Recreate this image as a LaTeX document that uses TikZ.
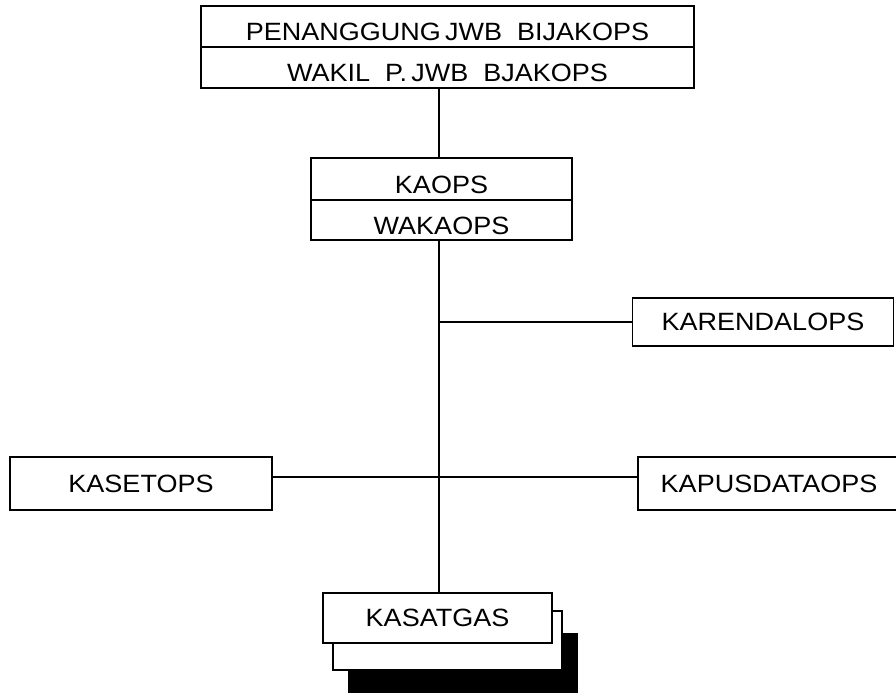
\documentclass[tikz,border=0pt]{standalone}
\usepackage{fontspec}
\setmainfont[FakeStretch=1.08]{Liberation Sans}
\begin{document}
\begin{tikzpicture}[x=1pt,y=-1pt,line width=1.5pt,
  kotak/.style={draw,fill=white,inner sep=0pt,text height=17.9pt,text depth=0pt,
    font=\fontsize{25}{30}\selectfont},
  baris/.style={kotak,text height=28pt}]
\useasboundingbox(0,0)rectangle(896,694);
\clip(0,0)rectangle(896,694);
\coordinate(trunk)at(439,0);
\node[baris,minimum width=493pt,minimum height=41pt](pjwb)at(447.5,26.5){PENANGGUNG\,JWB\ \ BIJAKOPS};
\node[baris,minimum width=493pt,minimum height=41pt](wakil)at(447.5,67.5){WAKIL\ \ P.\,JWB\ \ BJAKOPS};
\node[baris,minimum width=261pt,minimum height=42pt](kaops)at(441.5,179){KAOPS};
\node[baris,minimum width=261pt,minimum height=40pt](wakaops)at(441.5,220){WAKAOPS};
\node[kotak,minimum width=261pt,minimum height=48pt](karendal)at(763,322){KARENDALOPS};
\node[kotak,minimum width=262pt,minimum height=53pt](kasetops)at(141,483.5){KASETOPS};
\node[kotak,minimum width=262pt,minimum height=53pt](kapusdata)at(769,483.5){KAPUSDATAOPS};
\fill(348,633)rectangle(578,693);
\draw[fill=white](333,611)rectangle(562,670);
\node[kotak,minimum width=229pt,minimum height=50pt](kasatgas)at(437.5,618){KASATGAS};
\draw(wakil.south-|trunk)--(kaops.north-|trunk);
\draw(wakaops.south-|trunk)--(kasatgas.north-|trunk);
\draw(trunk|-karendal.west)--(karendal.west);
\draw([yshift=6.5pt]kasetops.east)--([yshift=6.5pt]kapusdata.west);
\end{tikzpicture}
\end{document}
